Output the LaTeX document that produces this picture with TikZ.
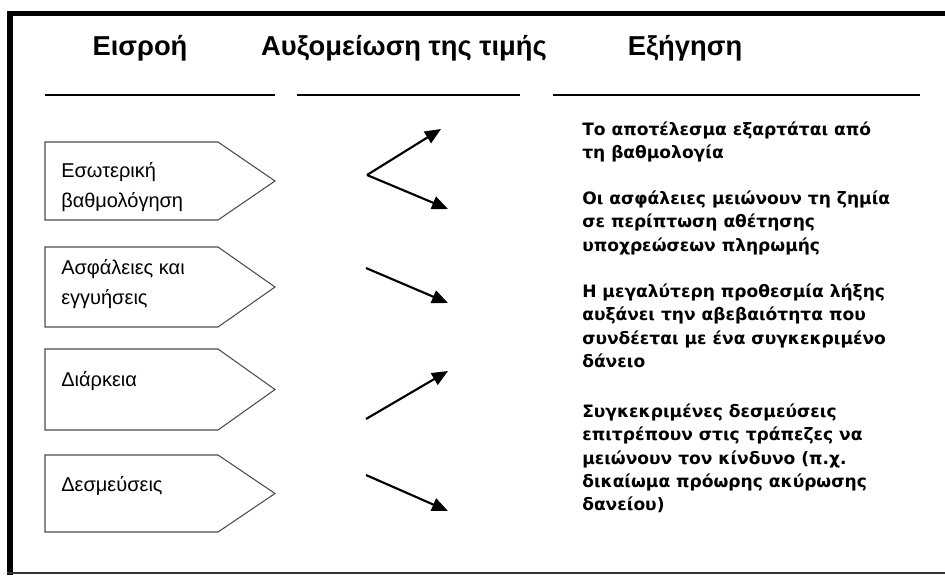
\documentclass[tikz,border=0pt]{standalone}
\usepackage{fontspec}
\setmainfont{Liberation Sans}
\newfontfamily\expfont{DejaVu Sans}
\usetikzlibrary{arrows.meta}
\tikzset{
  head/.style={font=\bfseries\fontsize{20.5}{22}\selectfont, anchor=center, inner sep=0pt},
  rule/.style={line width=1.6pt, black},
  inbox/.style={draw=black!70, line width=0.8pt},
  intext/.style={font=\fontsize{15}{22}\selectfont, anchor=west, align=left, inner sep=0pt},
  exptext/.style={font=\expfont\bfseries\fontsize{12.8}{17.3}\selectfont, anchor=north west, align=left, inner sep=0pt},
  trend/.style={line width=1.6pt, -{Triangle[length=12pt,width=10pt]}}
}
\begin{document}
\begin{tikzpicture}[x=0.75pt,y=-0.75pt]
\useasboundingbox (0,0) rectangle (945,575);
% frame
\fill[black] (7,11) rectangle (945,16);
\fill[black] (7,11) rectangle (13,575);
\draw[black!80, line width=1.5pt] (7,573) -- (945,573);
% headers
\node[head] (h1) at (140,48) {Εισροή};
\node[head] (h2) at (404,48) {Αυξομείωση της τιμής};
\node[head] (h3) at (685,48) {Εξήγηση};
\draw[rule] (45,95) -- (275,95);
\draw[rule] (297,95) -- (520,95);
\draw[rule] (553,95) -- (920,95);
% input boxes
\foreach \t/\b in {142/220, 247/327, 349/430, 455/532}{
  \draw[inbox] (45,\t) -- (218,\t) -- (275,{(\t+\b)/2}) -- (218,\b) -- (45,\b) -- cycle;
}
\node[intext] (i1) at (61,187) {Εσωτερική\\βαθμολόγηση};
\node[intext] (i2) at (61,284) {Ασφάλειες και\\εγγυήσεις};
\node[intext] (i3) at (61,381) {Διάρκεια};
\node[intext] (i4) at (61,486) {Δεσμεύσεις};
% trend arrows
\coordinate (v1) at (367,175);
\coordinate (e1a) at (441,129);
\coordinate (e1b) at (448,209);
\coordinate (s2) at (366,268);
\coordinate (e2) at (448,303);
\coordinate (s3) at (366,419);
\coordinate (e3) at (448,371);
\coordinate (s4) at (366,475);
\coordinate (e4) at (448,511);
\draw[trend] (v1) -- (e1a);
\draw[trend] (v1) -- (e1b);
\draw[trend] (s2) -- (e2);
\draw[trend] (s3) -- (e3);
\draw[trend] (s4) -- (e4);
% explanations
\node[exptext] (x1) at (582,122) {Το αποτέλεσμα εξαρτάται από\\τη βαθμολογία};
\node[exptext] (x2) at (582,191) {Οι ασφάλειες μειώνουν τη ζημία\\σε περίπτωση αθέτησης\\υποχρεώσεων πληρωμής};
\node[exptext] (x3) at (582,284) {Η μεγαλύτερη προθεσμία λήξης\\αυξάνει την αβεβαιότητα που\\συνδέεται με ένα συγκεκριμένο\\δάνειο};
\node[exptext] (x4) at (582,404) {Συγκεκριμένες δεσμεύσεις\\επιτρέπουν στις τράπεζες να\\μειώνουν τον κίνδυνο (π.χ.\\δικαίωμα πρόωρης ακύρωσης\\δανείου)};
\end{tikzpicture}
\end{document}
